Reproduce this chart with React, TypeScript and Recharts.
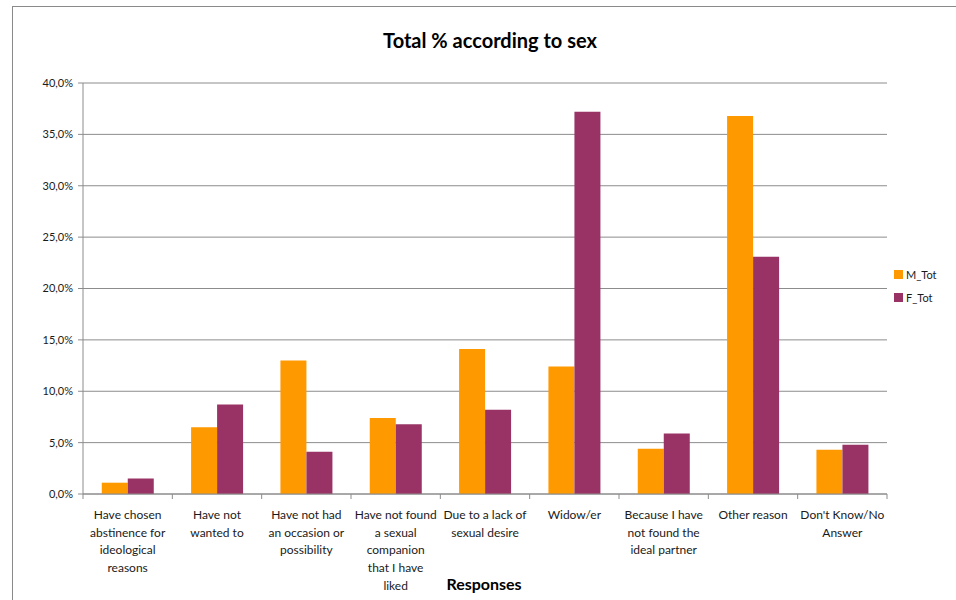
import React from "react";
import { BarChart, Bar, XAxis, YAxis, CartesianGrid } from "recharts";

const CATEGORIES = [
  "Have chosen abstinence for ideological reasons",
  "Have not wanted to",
  "Have not had an occasion or possibility",
  "Have not found a sexual companion that I have liked",
  "Due to a lack of sexual desire",
  "Widow/er",
  "Because I have not found the ideal partner",
  "Other reason",
  "Don't Know/No Answer",
];

// wrapped the way the original chart shows them
const LABEL_LINES = [
  ["Have chosen", "abstinence for", "ideological", "reasons"],
  ["Have not", "wanted to"],
  ["Have not had", "an occasion or", "possibility"],
  ["Have not found", "a sexual", "companion", "that I have", "liked"],
  ["Due to a lack of", "sexual desire"],
  ["Widow/er"],
  ["Because I have", "not found the", "ideal partner"],
  ["Other reason"],
  ["Don't Know/No", "Answer"],
];

const M_TOT = [1.1, 6.5, 13.0, 7.4, 14.1, 12.4, 4.4, 36.8, 4.3];
const F_TOT = [1.5, 8.7, 4.1, 6.8, 8.2, 37.2, 5.9, 23.1, 4.8];

const SERIES = [
  { key: "M_Tot", color: "#FF9900" },
  { key: "F_Tot", color: "#993366" },
];

const Y_TICKS = [0, 5, 10, 15, 20, 25, 30, 35, 40];

const data = CATEGORIES.map((c, i) => ({ name: c, M_Tot: M_TOT[i], F_Tot: F_TOT[i] }));

const FONT = "Lato, 'Open Sans', sans-serif";
const AXIS_GRAY = "#8c8c8c";

const fmtPct = (v: number) => v.toFixed(1).replace(".", ",") + "%";

function CategoryTick(props: any) {
  const { x, y, payload, index } = props;
  const i = payload?.index ?? index;
  const lines = LABEL_LINES[i] || [];
  const half = payload?.offset ?? 44.7;
  return (
    <g>
      <line x1={x - half} x2={x - half} y1={y} y2={y + 5} stroke={AXIS_GRAY} />
      {i === CATEGORIES.length - 1 && (
        <line x1={x + half} x2={x + half} y1={y} y2={y + 5} stroke={AXIS_GRAY} />
      )}
      <text x={x} y={y + 25} textAnchor="middle" fontSize={12} fill="#1a1a1a" fontFamily={FONT}>
        {lines.map((l, k) => (
          <tspan key={k} x={x} dy={k === 0 ? 0 : 17.7}>
            {l}
          </tspan>
        ))}
      </text>
    </g>
  );
}

export default function App() {
  return (
    <div
      style={{
        position: "absolute",
        left: 0,
        top: 0,
        width: 956,
        height: 600,
        overflow: "hidden",
        background: "#fff",
        fontFamily: FONT,
      }}
    >
      <div
        style={{
          position: "absolute",
          left: 12,
          top: 6,
          width: 1100,
          height: 800,
          border: "1.5px solid #8a8a8a",
        }}
      />
      <div
        style={{
          position: "absolute",
          left: 0,
          width: 980,
          top: 28,
          textAlign: "center",
          fontWeight: 700,
          fontSize: 20,
          color: "#000",
        }}
      >
        Total % according to sex
      </div>
      <div
        style={{
          position: "absolute",
          left: 0,
          width: 968,
          top: 574,
          textAlign: "center",
          fontWeight: 700,
          fontSize: 16,
          color: "#000",
        }}
      >
        Responses
      </div>
      <div style={{ position: "absolute", left: 0, top: 0 }}>
        <BarChart
          width={956}
          height={600}
          data={data}
          margin={{ top: 83, right: 69, left: 0, bottom: 0 }}
          barGap={0}
          barCategoryGap="21%"
        >
          <CartesianGrid vertical={false} stroke={AXIS_GRAY} strokeWidth={1} />
          <XAxis
            dataKey="name"
            height={106}
            tickLine={false}
            tickSize={0}
            tickMargin={0}
            axisLine={{ stroke: AXIS_GRAY }}
            interval={0}
            tick={<CategoryTick />}
          />
          <YAxis
            width={83}
            domain={[0, 40]}
            ticks={Y_TICKS}
            tickFormatter={fmtPct}
            tickSize={5}
            tickMargin={5}
            axisLine={{ stroke: AXIS_GRAY }}
            tickLine={{ stroke: AXIS_GRAY }}
            tick={{ fontSize: 11, fill: "#1a1a1a", fontFamily: FONT }}
          />
          {SERIES.map((s) => (
            <Bar key={s.key} dataKey={s.key} fill={s.color} isAnimationActive={false} />
          ))}
        </BarChart>
      </div>
      <div style={{ position: "absolute", left: 894, top: 263, fontSize: 11, color: "#1a1a1a" }}>
        {SERIES.map((s) => (
          <div key={s.key} style={{ display: "flex", alignItems: "center", height: 23 }}>
            <span style={{ width: 9, height: 9, background: s.color, marginRight: 3, display: "inline-block" }} />
            {s.key}
          </div>
        ))}
      </div>
    </div>
  );
}
